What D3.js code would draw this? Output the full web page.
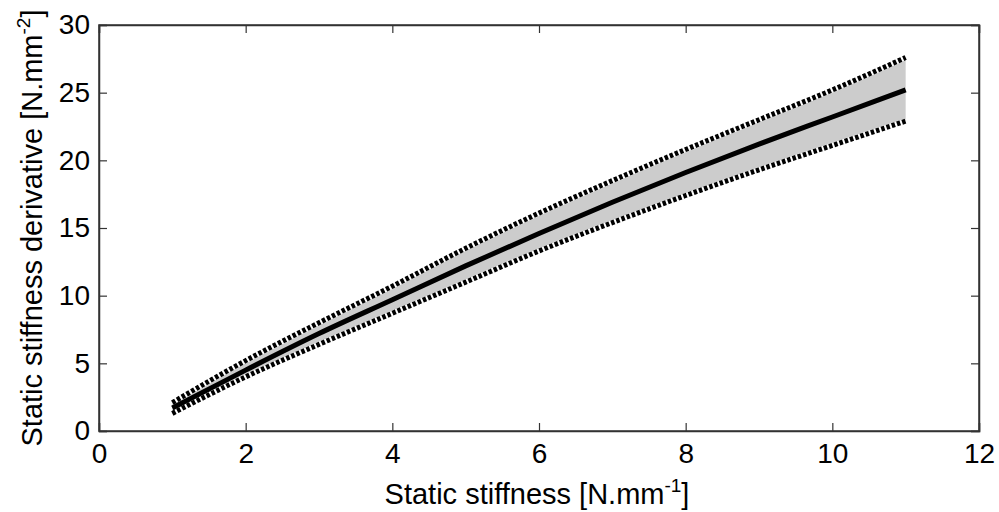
<!DOCTYPE html>
<html><head><meta charset="utf-8">
<script src="https://cdn.jsdelivr.net/npm/d3@7"></script>
<style>body{margin:0;background:#fff}svg{display:block}text{font-family:"Liberation Sans",Arial,sans-serif;fill:#000}</style>
</head><body><svg id="c" width="999" height="512"></svg>
<script>
const stiffness = [1, 2, 3, 4, 5, 6, 7, 8, 9, 10, 11];
const meanDeriv = [1.7, 4.5, 7.2, 9.7, 12.2, 14.6, 16.9, 19.1, 21.2, 23.2, 25.2];
const upperDeriv = [2.1, 5.2, 8.0, 10.7, 13.5, 16.1, 18.5, 20.8, 23.0, 25.2, 27.6];
const lowerDeriv = [1.3, 4.0, 6.4, 8.7, 11.0, 13.3, 15.4, 17.4, 19.3, 21.1, 22.9];
const xTicks = [0, 2, 4, 6, 8, 10, 12];
const yTicks = [0, 5, 10, 15, 20, 25, 30];

const svg = d3.select("#c");
const L = 99, R = 979, T = 25, B = 431;
const x = d3.scaleLinear().domain([0, 12]).range([L, R]);
const y = d3.scaleLinear().domain([0, 30]).range([B, T]);
const pts = stiffness.map((s, i) => ({s, m: meanDeriv[i], u: upperDeriv[i], l: lowerDeriv[i]}));

svg.append("path").datum(pts)
  .attr("d", d3.area().x(d => x(d.s)).y0(d => y(d.l)).y1(d => y(d.u)).curve(d3.curveMonotoneX))
  .attr("fill", "#cccccc");
["u", "l"].forEach(k => {
  svg.append("path").datum(pts)
    .attr("d", d3.line().x(d => x(d.s)).y(d => y(d[k])).curve(d3.curveMonotoneX))
    .attr("fill", "none").attr("stroke", "#fff").attr("stroke-width", 5);
  svg.append("path").datum(pts)
    .attr("d", d3.line().x(d => x(d.s)).y(d => y(d[k])).curve(d3.curveMonotoneX))
    .attr("fill", "none").attr("stroke", "#000").attr("stroke-width", 5).attr("stroke-dasharray", "3.5,2");
});
svg.append("path").datum(pts)
  .attr("d", d3.line().x(d => x(d.s)).y(d => y(d.m)).curve(d3.curveMonotoneX))
  .attr("fill", "none").attr("stroke", "#000").attr("stroke-width", 5);

// frame and ticks
const ax = "#333";
const axB = svg.append("g").attr("transform", `translate(0,${B})`)
  .call(d3.axisBottom(x).tickValues(xTicks).tickSize(-8).tickPadding(12).tickFormat(d3.format("d")));
const axT = svg.append("g").attr("transform", `translate(0,${T})`)
  .call(d3.axisTop(x).tickValues(xTicks).tickSize(-8).tickFormat(""));
const axL = svg.append("g").attr("transform", `translate(${L},0)`)
  .call(d3.axisLeft(y).tickValues(yTicks).tickSize(-8).tickPadding(9).tickFormat(d3.format("d")));
const axR = svg.append("g").attr("transform", `translate(${R},0)`)
  .call(d3.axisRight(y).tickValues(yTicks).tickSize(-8).tickFormat(""));
[axB, axT, axL, axR].forEach(g => {
  g.select(".domain").attr("stroke", ax).attr("stroke-width", 1.5);
  g.selectAll(".tick line").attr("stroke", ax).attr("stroke-width", 1.2);
  g.selectAll("text").attr("font-size", 28).attr("font-family", "Liberation Sans, Arial, sans-serif").attr("fill", "#000");
});
svg.append("rect").attr("x", L).attr("y", T).attr("width", R - L).attr("height", B - T)
  .attr("fill", "none").attr("stroke", ax).attr("stroke-width", 1.5);

// labels
const xl = svg.append("text").attr("x", 537).attr("y", 504).attr("text-anchor", "middle").attr("font-size", 29);
xl.append("tspan").text("Static stiffness [N.mm");
xl.append("tspan").attr("font-size", 19).attr("dy", -12).text("-1");
xl.append("tspan").attr("dy", 12).text("]");

const yl = svg.append("text").attr("transform", `translate(42,228) rotate(-90)`).attr("text-anchor", "middle").attr("font-size", 29);
yl.append("tspan").text("Static stiffness derivative [N.mm");
yl.append("tspan").attr("font-size", 19).attr("dy", -12).text("-2");
yl.append("tspan").attr("dy", 12).text("]");
</script></body></html>
